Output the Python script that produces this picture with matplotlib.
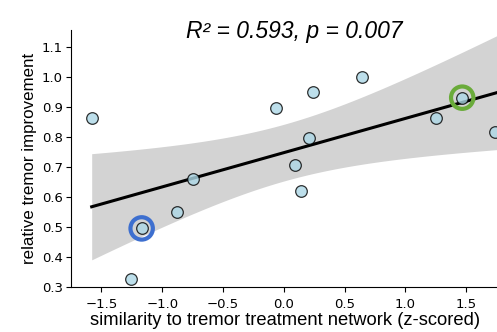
import numpy as np
import matplotlib
matplotlib.use("Agg")
import matplotlib.pyplot as plt

# similarity (z-scored) vs relative tremor improvement
sim = np.array([-1.58, -0.745, -0.882, -1.169, -1.257, -0.06, 0.241, 0.647,
                0.205, 0.090, 0.140, 1.255, 1.468, 1.735])
improv = np.array([0.862, 0.661, 0.550, 0.495, 0.327, 0.896, 0.949, 0.999,
                   0.796, 0.705, 0.620, 0.862, 0.930, 0.816])
# highlighted patients
hl_blue = (-1.169, 0.495)
hl_green = (1.468, 0.930)

stat_text = "R² = 0.593, p = 0.007"

# linear fit + 95% CI of the mean
n = len(sim)
slope, icpt = np.polyfit(sim, improv, 1)
xs = np.linspace(sim.min(), 1.95, 100)
ys = slope * xs + icpt
resid = improv - (slope * sim + icpt)
s = np.sqrt(np.sum(resid ** 2) / (n - 2))
se = s * np.sqrt(1.0 / n + (xs - sim.mean()) ** 2 / np.sum((sim - sim.mean()) ** 2))
tval = 2.179  # t(0.975, 12)
lo, hi = ys - tval * se, ys + tval * se

fig = plt.figure(figsize=(4.97, 3.32), dpi=100)
ax = fig.add_axes([0.1429, 0.1355, 0.861, 0.774])

ax.fill_between(xs, lo, hi, color="#d3d3d3", lw=0, zorder=1)
ax.plot(xs, ys, color="black", lw=2.2, zorder=3)
ax.scatter(sim, improv, s=70, c="lightblue", edgecolors="black",
           linewidths=0.9, alpha=0.8, zorder=4, clip_on=False)
ax.scatter([hl_blue[0]], [hl_blue[1]], s=260, facecolors="none",
           edgecolors="#3d6fcf", linewidths=3, zorder=5)
ax.scatter([hl_green[0]], [hl_green[1]], s=260, facecolors="none",
           edgecolors="#6aab3a", linewidths=3, zorder=5)

ax.set_xlim(-1.75, 1.77)
ax.set_ylim(0.3, 1.155)
ax.set_xticks([-1.5, -1.0, -0.5, 0.0, 0.5, 1.0, 1.5])
ax.set_yticks([0.3, 0.4, 0.5, 0.6, 0.7, 0.8, 0.9, 1.0, 1.1])
ax.tick_params(labelsize=9.5, length=3.5, width=0.8)
ax.tick_params(axis="x", pad=4.5)
ax.tick_params(axis="y", pad=2.5)
ax.spines["top"].set_visible(False)
ax.spines["right"].set_visible(False)

ax.set_xlabel("similarity to tremor treatment network (z-scored)", labelpad=0.5,
              family="Liberation Sans", size=13.2)
ax.set_ylabel("relative tremor improvement", labelpad=3,
              family="Liberation Sans", size=12.2)

fig.text(0.592, 0.904, stat_text, ha="center", va="center",
         family="Liberation Sans", style="italic", fontsize=16.5)

fig.savefig("out.png", dpi=100)
